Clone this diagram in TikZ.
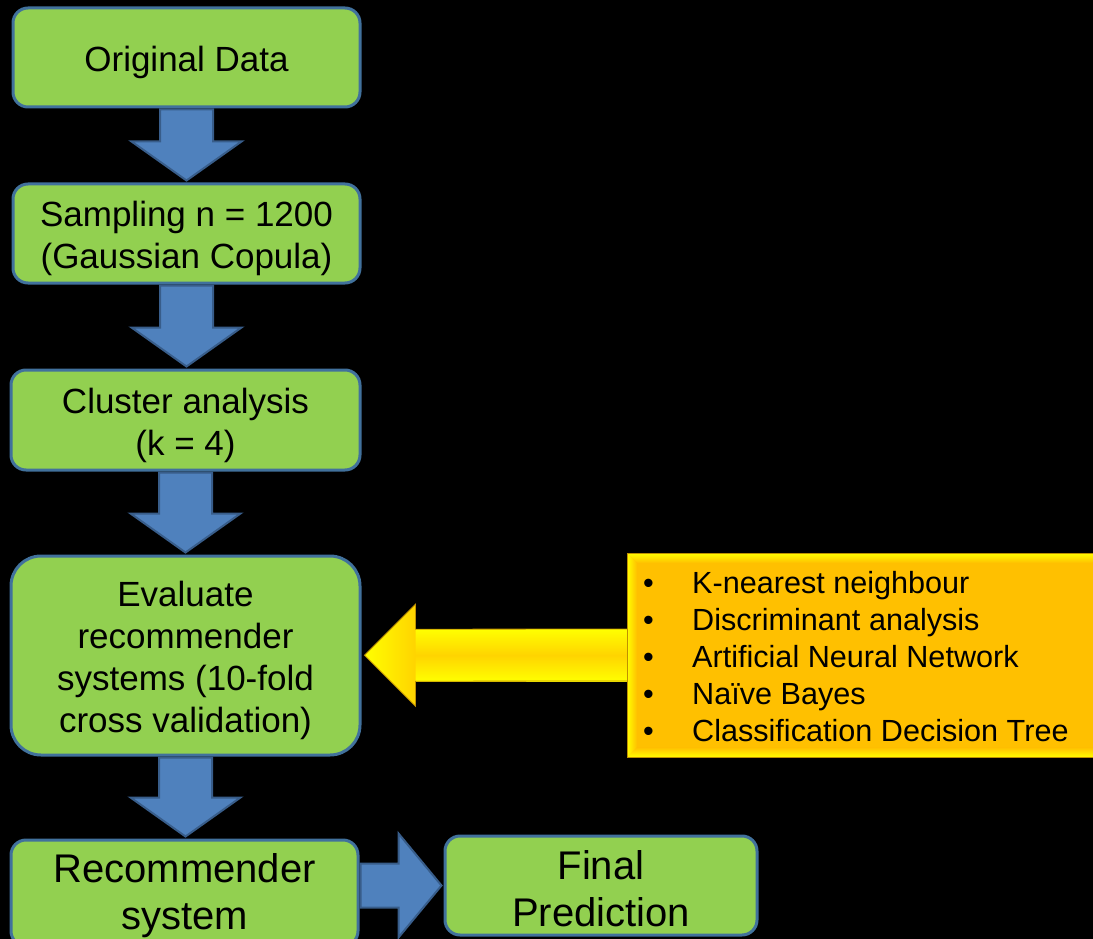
\documentclass[tikz,border=0pt]{standalone}
\usepackage{fontspec}
\setmainfont{Liberation Sans}
\usetikzlibrary{calc}
\definecolor{boxgreen}{HTML}{92D050}
\definecolor{boxline}{HTML}{41719C}
\definecolor{arrowblue}{HTML}{4F81BD}
\definecolor{arrowline}{HTML}{385D8A}
\definecolor{gold}{HTML}{FFC000}
\definecolor{brightyellow}{HTML}{FFFF00}
\definecolor{midyellow}{HTML}{FFD400}
\definecolor{darkgold}{HTML}{BF9000}
\newcommand{\lowA}{\rule{0pt}{36pt}}
\newcommand{\lowB}{\rule{0pt}{35pt}}
\newcommand{\downflow}[2]{%
  \filldraw[blockarrow] let \p1=(#1.south), \p2=(#2.north) in
    (\x1-26.5pt,\y1-1pt) -- (\x1+26.5pt,\y1-1pt) -- (\x1+26.5pt,\y2+41pt)
    -- (\x1+55pt,\y2+41pt) -- (\x1,\y2+2pt) -- (\x1-55pt,\y2+41pt)
    -- (\x1-26.5pt,\y2+41pt) -- cycle;}
\begin{document}
\begin{tikzpicture}[x=1pt,y=-1pt,
  stagebase/.style={draw=boxline, line width=3pt, fill=boxgreen, rounded corners=15pt,
    align=center, inner sep=0pt},
  stage/.style={stagebase, font=\fontsize{35}{42}\selectfont},
  bigstage/.style={stagebase, font=\fontsize{40}{47}\selectfont},
  blockarrow/.style={fill=arrowblue, draw=arrowline, line width=2pt, line join=miter}]
\fill[black] (0,0) rectangle (1093,939);
\useasboundingbox (0,0) rectangle (1093,939);
\clip (0,0) rectangle (1093,939);

% process boxes
\node[stage, minimum width=347pt, minimum height=99pt] (orig) at (186.5,57.5) {\lowA Original Data};
\node[stage, minimum width=347pt, minimum height=99pt] (samp) at (186.5,233.5) {\lowA Sampling n = 1200\\(Gaussian Copula)};
\node[stage, minimum width=349pt, minimum height=100pt] (clus) at (185.5,420) {\lowA Cluster analysis\\(k = 4)};
\node[stage, rounded corners=30pt, minimum width=349pt, minimum height=199pt] (eval) at (185.5,655.5)
  {\lowA Evaluate\\recommender\\systems (10-fold\\cross validation)};
\node[bigstage, minimum width=347pt, minimum height=106pt] (rec) at (184.5,893) {\lowB Recommender\\system};
\node[bigstage, minimum width=312pt, minimum height=99pt] (final) at (601,885.5) {\lowB Final\\Prediction};

% down arrows
\downflow{orig}{samp}
\downflow{samp}{clus}
\downflow{clus}{eval}
\downflow{eval}{rec}

% right arrow
\filldraw[blockarrow] let \p1=(rec.east), \p2=(final.west) in
  (\x1+1pt,\y2+22pt) -- (\x2-45pt,\y2+22pt) -- (\x2-45pt,\y2+52pt) -- (\x2-2pt,\y2)
  -- (\x2-45pt,\y2-52pt) -- (\x2-45pt,\y2-22pt) -- (\x1+1pt,\y2-22pt) -- cycle;

% models box
\node[fill=gold, inner sep=0pt, minimum width=475pt, minimum height=204pt, anchor=north west] (models) at (627,553) {};

% yellow arrow (shaft + head, shaded)
\path let \p1=(eval.east), \p2=(models.west) in
  coordinate (tip) at (\x1+3pt,\y2)
  coordinate (hb) at (\x1+54pt,\y2);
\shade[top color=brightyellow, bottom color=brightyellow, middle color=midyellow]
  ($(hb)+(-1,-26)$) rectangle ($(models.west)+(0,26)$);
\shade[left color=brightyellow, right color=midyellow]
  (tip) -- ($(hb)+(0,-51)$) -- ($(hb)+(0,51)$) -- cycle;
\draw[darkgold, line width=0.8pt, line join=miter]
  (models.west |- 0,{655-26}) -- ($(hb)+(0,-26)$) -- ($(hb)+(0,-51)$) -- (tip)
  -- ($(hb)+(0,51)$) -- ($(hb)+(0,26)$) -- (models.west |- 0,{655+26});

% bevel of models box
\shade[top color=brightyellow, bottom color=gold]
  (models.north west) -- (models.north east) -- ($(models.north east)+(-10,10)$) -- ($(models.north west)+(10,10)$) -- cycle;
\shade[left color=brightyellow, right color=gold]
  (models.north west) -- (models.south west) -- ($(models.south west)+(10,-10)$) -- ($(models.north west)+(10,10)$) -- cycle;
\shade[bottom color=brightyellow, top color=gold]
  (models.south west) -- (models.south east) -- ($(models.south east)+(-10,-10)$) -- ($(models.south west)+(10,-10)$) -- cycle;
\draw[darkgold, line width=0.8pt] (models.north east) -- (models.north west) -- (models.south west) -- (models.south east);

\node[anchor=north west, inner sep=0pt, align=left, font=\fontsize{30.6}{37}\selectfont] (list) at (643,571)
  {\makebox[49pt][l]{•}K-nearest neighbour\\
   \makebox[49pt][l]{•}Discriminant analysis\\
   \makebox[49pt][l]{•}Artificial Neural Network\\
   \makebox[49pt][l]{•}Naïve Bayes\\
   \makebox[49pt][l]{•}Classification Decision Tree};
\end{tikzpicture}
\end{document}
